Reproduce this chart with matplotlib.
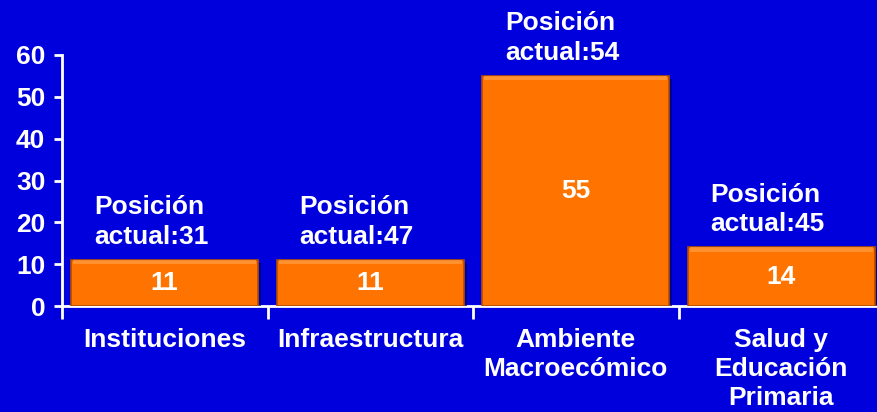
import matplotlib
matplotlib.use("Agg")
import matplotlib.pyplot as plt
import matplotlib.patheffects as pe
import numpy as np

categories = ["Instituciones", "Infraestructura", "Ambiente\nMacroecómico", "Salud y\nEducación\nPrimaria"]
values = [11, 11, 55, 14]
positions_label = ["Posición\nactual:31", "Posición\nactual:47", "Posición\nactual:54", "Posición\nactual:45"]
yticks = [0, 10, 20, 30, 40, 50, 60]

BG = "#0000DD"
plt.rcParams['font.family'] = ['Liberation Sans', 'DejaVu Sans']
plt.rcParams['font.weight'] = 'bold'
FS = 19

fig = plt.figure(figsize=(8.77, 4.12), dpi=100, facecolor=BG)
ax = fig.add_axes([62/877, 106/412, 822/877, 251/412])
ax.set_facecolor(BG)

x = np.arange(len(categories))
bars = ax.bar(x, values, width=0.91, color="#FF7300", edgecolor="#B34D00", linewidth=1.2, zorder=3)
for b in bars:
    b.set_path_effects([pe.SimplePatchShadow(offset=(2, -2), shadow_rgbFace="#000070", alpha=0.7), pe.Normal()])

# bevel highlight strip
for xi, v in zip(x, values):
    ax.bar(xi, 1.0, bottom=v - 1.0, width=0.89, color="#FF9A3C", linewidth=0, zorder=4, alpha=0.8)

ax.set_xlim(-0.5, 3.5)
ax.set_ylim(0, 60)
ax.set_yticks(yticks)
ax.set_yticklabels([str(t) for t in yticks])

for s in ["top", "right"]:
    ax.spines[s].set_visible(False)
for s in ["left", "bottom"]:
    ax.spines[s].set_color("white")
    ax.spines[s].set_linewidth(2)

ax.tick_params(axis='y', colors='white', labelsize=FS, length=6, width=2, pad=6)
ax.set_xticks(x)
ax.set_xticklabels(categories, fontsize=FS, color='white', fontweight='bold', linespacing=1.26)
ax.tick_params(axis='x', which='major', length=0, pad=16)
ax.set_xticks(np.arange(-0.5, 4.0, 1.0), minor=True)
ax.tick_params(axis='x', which='minor', length=9, width=2, color='white', direction='out')
for lbl in ax.get_yticklabels():
    lbl.set_fontweight('bold')

for xi, v, lab in zip(x, values, positions_label):
    ax.text(xi, v / 2, str(v), ha='center', va='center', color='white', fontsize=FS, fontweight='bold', zorder=5)
    ax.annotate(lab, xy=(xi - 0.345, v), xytext=(0, 8), textcoords='offset points',
                ha='left', va='bottom', color='white', fontsize=FS, fontweight='bold',
                linespacing=1.3, annotation_clip=False)

fig.savefig("out.png", dpi=100, facecolor=BG)
